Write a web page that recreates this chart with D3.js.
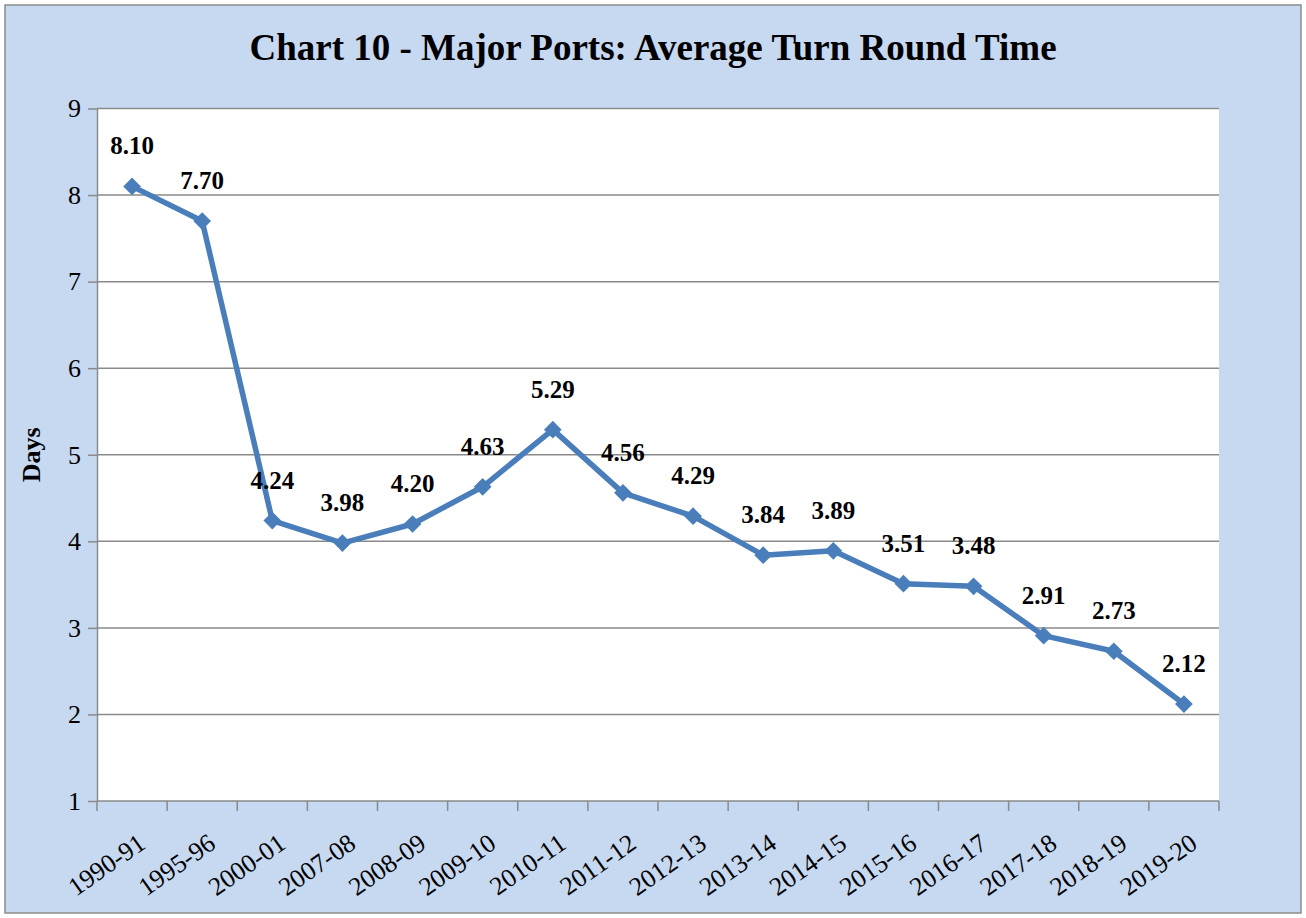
<!DOCTYPE html>
<html>
<head>
<meta charset="utf-8">
<script src="https://cdn.jsdelivr.net/npm/d3@7"></script>
<style>
  body { margin: 0; background: #fff; }
  text { font-family: "Liberation Serif", "Times New Roman", serif; }
</style>
</head>
<body>
<div id="chart"></div>
<script>
const years = ['1990-91', '1995-96', '2000-01', '2007-08', '2008-09', '2009-10', '2010-11', '2011-12',
    '2012-13', '2013-14', '2014-15', '2015-16', '2016-17', '2017-18', '2018-19', '2019-20'];
const turnRound = [8.10, 7.70, 4.24, 3.98, 4.20, 4.63, 5.29, 4.56, 4.29, 3.84, 3.89, 3.51, 3.48, 2.91, 2.73, 2.12];
const yTicks = [1, 2, 3, 4, 5, 6, 7, 8, 9];

const W = 1306, H = 918;
const margin = { top: 108.5, right: 87, bottom: 117, left: 97 };
const width = W - margin.left - margin.right;
const height = H - margin.top - margin.bottom;

const svg = d3.select('#chart').append('svg')
    .attr('width', W)
    .attr('height', H);

// outer background
svg.append('rect')
    .attr('x', 5).attr('y', 5)
    .attr('width', W - 10).attr('height', H - 10)
    .attr('fill', '#c6d9f0')
    .attr('stroke', '#8c8c8c')
    .attr('stroke-width', 1.5);

svg.append('text')
    .attr('x', 653).attr('y', 60)
    .attr('text-anchor', 'middle')
    .style('font-size', '37px')
    .style('font-weight', 'bold')
    .text('Chart 10 - Major Ports: Average Turn Round Time');

const chart = svg.append('g')
    .attr('transform', `translate(${margin.left},${margin.top})`);

chart.append('rect')
    .attr('width', width).attr('height', height)
    .attr('fill', '#fff');

const xScale = d3.scaleBand().domain(years).range([0, width]);
const yScale = d3.scaleLinear().domain([1, 9]).range([height, 0]);

// gridlines
chart.append('g')
    .selectAll('line')
    .data(yTicks.slice(1))
    .join('line')
    .attr('x1', 0).attr('x2', width)
    .attr('y1', d => yScale(d)).attr('y2', d => yScale(d))
    .attr('stroke', '#8a8a8a')
    .attr('stroke-width', 1.5);

// y axis
const yAxisG = chart.append('g')
    .call(d3.axisLeft(yScale).tickValues(yTicks).tickSize(9).tickSizeOuter(0).tickPadding(7));
yAxisG.select('.domain').attr('stroke', '#8a8a8a').attr('stroke-width', 1.5);
yAxisG.selectAll('.tick line').attr('stroke', '#8a8a8a').attr('stroke-width', 1.5);
yAxisG.selectAll('.tick text')
    .style('font-size', '26px')
    .style('font-family', '"Liberation Serif", serif')
    .attr('fill', '#000');

// x axis: ticks on category boundaries
const xAxisG = chart.append('g')
    .attr('transform', `translate(0,${height})`);
xAxisG.append('line')
    .attr('x1', 0).attr('x2', width)
    .attr('stroke', '#8a8a8a').attr('stroke-width', 1.5);
xAxisG.selectAll('.xtick')
    .data(years.concat(['end']))
    .join('line')
    .attr('class', 'xtick')
    .attr('x1', (d, i) => i * xScale.step())
    .attr('x2', (d, i) => i * xScale.step())
    .attr('y1', 0).attr('y2', 10)
    .attr('stroke', '#8a8a8a').attr('stroke-width', 1.5);
xAxisG.selectAll('.xlabel')
    .data(years)
    .join('text')
    .attr('class', 'xlabel')
    .attr('transform', d => `translate(${xScale(d) + xScale.bandwidth() / 2 + 15},${46}) rotate(-35)`)
    .attr('text-anchor', 'end')
    .style('font-size', '26px')
    .text(d => d);

// y-axis label
svg.append('text')
    .attr('transform', `translate(40,${margin.top + height / 2}) rotate(-90)`)
    .attr('text-anchor', 'middle')
    .style('font-size', '26px')
    .style('font-weight', 'bold')
    .text('Days');

const cx = d => xScale(d) + xScale.bandwidth() / 2;

const line = d3.line()
    .x((d, i) => cx(years[i]))
    .y(d => yScale(d));

chart.append('path')
    .datum(turnRound)
    .attr('d', line)
    .attr('fill', 'none')
    .attr('stroke', '#4a7ebb')
    .attr('stroke-width', 5.5)
    .attr('stroke-linejoin', 'round');

chart.selectAll('.marker')
    .data(turnRound)
    .join('path')
    .attr('class', 'marker')
    .attr('d', d3.symbol().type(d3.symbolDiamond2).size(200))
    .attr('transform', (d, i) => `translate(${cx(years[i])},${yScale(d)})`)
    .attr('fill', '#4a7ebb');

chart.selectAll('.val')
    .data(turnRound)
    .join('text')
    .attr('class', 'val')
    .attr('x', (d, i) => cx(years[i]))
    .attr('y', d => yScale(d) - 32)
    .attr('text-anchor', 'middle')
    .style('font-size', '25px')
    .style('font-weight', 'bold')
    .text(d => d.toFixed(2));
</script>
</body>
</html>
